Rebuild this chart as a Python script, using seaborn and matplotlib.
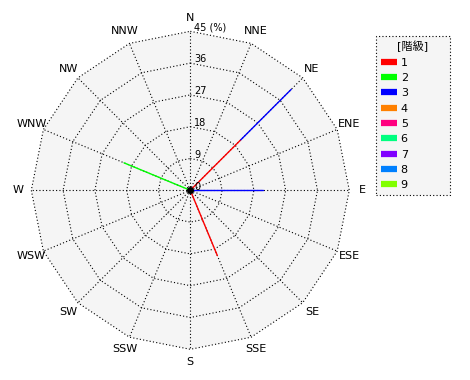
import numpy as np
import pandas as pd
import matplotlib
matplotlib.use("Agg")
import matplotlib.pyplot as plt
import seaborn as sns
from matplotlib.lines import Line2D

directions = ["N", "NNE", "NE", "ENE", "E", "ESE", "SE", "SSE",
              "S", "SSW", "SW", "WSW", "W", "WNW", "NW", "NNW"]
classes = ["1", "2", "3", "4", "5", "6", "7", "8", "9"]
class_colors = ["#ff0000", "#00ff00", "#0000ff", "#ff8000", "#ff0080",
                "#00ff80", "#8000ff", "#0080ff", "#80ff00"]
# percentage per direction for each class
class_1 = [0, 0, 20.2, 0, 0, 0, 0, 20.0, 0, 0, 0, 0, 0, 0, 0, 0]
class_2 = [0, 0, 0, 0, 0, 0, 0, 0, 0, 0, 0, 0, 0, 20.3, 0, 0]
class_3 = [0, 0, 20.2, 0, 20.5, 0, 0, 0, 0, 0, 0, 0, 0, 0, 0, 0]
class_4 = [0] * 16
class_5 = [0] * 16
class_6 = [0] * 16
class_7 = [0] * 16
class_8 = [0] * 16
class_9 = [0] * 16
ring_ticks = [9, 18, 27, 36, 45]
ring_labels = ["9", "18", "27", "36", "45 (%)"]
title = "[階級]"

sns.set_style("white")
plt.rcParams["font.family"] = ["DejaVu Sans", "Noto Sans CJK JP"]
plt.rcParams["text.color"] = "black"

all_classes = [class_1, class_2, class_3, class_4, class_5,
               class_6, class_7, class_8, class_9]
r_max = ring_ticks[-1]
angles = np.deg2rad(np.arange(len(directions)) * 360.0 / len(directions))

rows = []
seg = 0
for i, ang in enumerate(angles):
    cum = 0.0
    for k, vals in enumerate(all_classes):
        v = vals[i]
        if v > 0:
            for r in (cum, cum + v):
                rows.append({"seg": seg, "cls": classes[k],
                             "x": r * np.sin(ang), "y": r * np.cos(ang)})
            seg += 1
            cum += v
df = pd.DataFrame(rows)

W, H = 470, 380
fig = plt.figure(figsize=(W / 100, H / 100), dpi=100)
ax = fig.add_axes([0, 0, 1, 1])
s = 159.0 / r_max
cx, cy = 190.3, 190.3
ax.set_xlim(-cx / s, (W - cx) / s)
ax.set_ylim(-(H - cy) / s, cy / s)
ax.axis("off")

dot = (0, (1, 2))
poly_ang = np.append(angles, angles[0])
ax.fill(r_max * np.sin(poly_ang), r_max * np.cos(poly_ang),
        color="#f5f5f5", zorder=0, lw=0)
for r in ring_ticks:
    ax.plot(r * np.sin(poly_ang), r * np.cos(poly_ang), color="black",
            lw=0.8, ls=dot, zorder=1)
for ang in angles:
    ax.plot([0, r_max * np.sin(ang)], [0, r_max * np.cos(ang)],
            color="black", lw=0.8, ls=dot, zorder=1)

palette = dict(zip(classes, class_colors))
sns.lineplot(data=df, x="x", y="y", hue="cls", units="seg", estimator=None,
             sort=False, palette=palette, lw=1.0, legend=False, ax=ax,
             zorder=3)

ax.plot([0], [0], "o", color="black", ms=4, zorder=4)

for r, lab in zip(ring_ticks, ring_labels):
    ax.text(4 / s, r + 4 / s, lab, ha="left", va="center", fontsize=7,
            zorder=5)
ax.text(7 / s, 3.3 / s, "0", ha="center", va="center", fontsize=7, zorder=5)

r_lab = 172 / s
for ang, lab in zip(angles, directions):
    ax.text(r_lab * np.sin(ang), r_lab * np.cos(ang), lab, ha="center",
            va="center", fontsize=8)

handles = [Line2D([], [], color=c, lw=4.5, solid_capstyle="butt")
           for c in class_colors]
leg = fig.legend(handles, classes, title=title, loc="upper left",
                 bbox_to_anchor=(375.7 / W, 0, 74.3 / W, 1 - 35.7 / H),
                 mode="expand", borderaxespad=0, frameon=True,
                 fancybox=False, facecolor="#f5f5f5", edgecolor="black",
                 framealpha=1, fontsize=8, title_fontsize=8,
                 handlelength=1.45, handletextpad=0.35, labelspacing=0.48,
                 borderpad=0.45)
leg.get_frame().set_linestyle(dot)
leg.get_frame().set_linewidth(0.8)

fig.savefig("out.png", dpi=100, facecolor="white")
